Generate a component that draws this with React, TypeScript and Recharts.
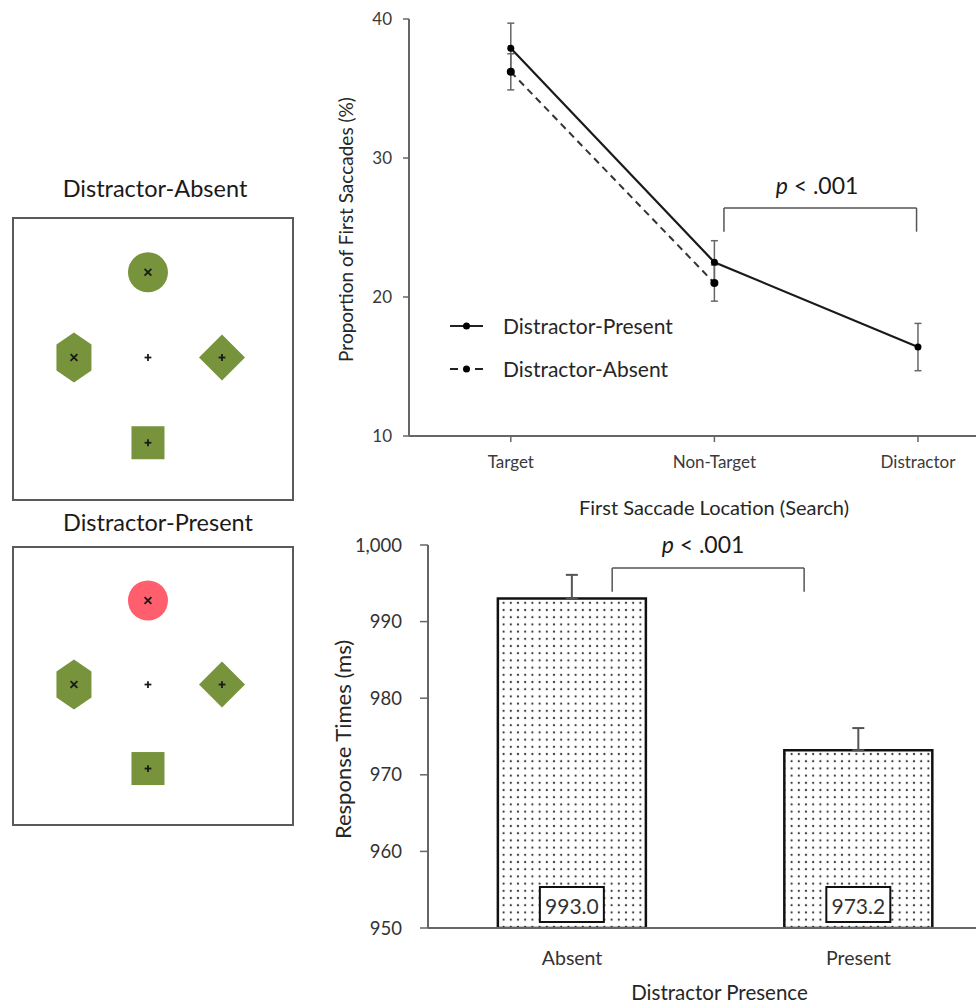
import React from 'react';
import {
  LineChart, Line, XAxis, YAxis, ErrorBar, ReferenceLine, ReferenceDot, Legend,
  BarChart, Bar, LabelList, ScatterChart, Scatter,
} from 'recharts';

const FONT = 'Lato, "Noto Sans", sans-serif';

// ---------- Line chart (first saccades) ----------
const saccadeLocations = ['Target', 'Non-Target', 'Distractor'];
const presentProportion = [37.9, 22.5, 16.4];
const presentError = [1.8, 1.55, 1.7];
const absentProportion: (number | null)[] = [36.2, 21.0, null];
const absentError: (number | null)[] = [1.3, 1.3, null];
const proportionTicks = [10, 20, 30, 40];
const legendItems = [
  { label: 'Distractor-Present', dash: undefined as string | undefined },
  { label: 'Distractor-Absent', dash: '8 17 8' },
];

const lineData = saccadeLocations.map((name, i) => ({
  idx: i,
  name,
  present: presentProportion[i],
  presentErr: presentError[i],
  absent: absentProportion[i],
  absentErr: absentError[i],
}));

// ---------- Bar chart (response times) ----------
const presenceConditions = ['Absent', 'Present'];
const responseTimes = [993.0, 973.2];
const responseTimeErrors = [3.1, 2.9];
const rtTicks = [950, 960, 970, 980, 990, 1000];

const barData = presenceConditions.map((name, i) => ({
  idx: i,
  name,
  rt: responseTimes[i],
  rtErr: [0, responseTimeErrors[i]],
}));

// ---------- Stimulus displays ----------
const stimulusKinds = ['circle', 'hexagon', 'diamond', 'square', 'fixation'];
const stimulusX = [0, -1, 1, 0, 0];
const stimulusY = [1, 0, 0, -1, 0];
const stimulusMarks = ['x', 'x', '+', '+', '+'];
const absentDisplayColors = ['#77933C', '#77933C', '#77933C', '#77933C', 'none'];
const presentDisplayColors = ['#FF5E6C', '#77933C', '#77933C', '#77933C', 'none'];
const panelTitles = ['Distractor-Absent', 'Distractor-Present'];

const makeDisplay = (colors: string[]) =>
  stimulusKinds.map((kind, i) => ({
    x: stimulusX[i],
    y: stimulusY[i],
    kind,
    mark: stimulusMarks[i],
    color: colors[i],
  }));

const AXIS = '#666';

const Mark = ({ cx, cy, mark }: { cx: number; cy: number; mark: string }) => {
  const s = 3.4;
  if (mark === 'x') {
    return (
      <g stroke="#1a1a1a" strokeWidth={1.8}>
        <line x1={cx - s} y1={cy - s} x2={cx + s} y2={cy + s} />
        <line x1={cx - s} y1={cy + s} x2={cx + s} y2={cy - s} />
      </g>
    );
  }
  return (
    <g stroke="#1a1a1a" strokeWidth={1.8}>
      <line x1={cx - s} y1={cy} x2={cx + s} y2={cy} />
      <line x1={cx} y1={cy - s} x2={cx} y2={cy + s} />
    </g>
  );
};

const StimulusShape = (props: any) => {
  const { cx, cy } = props;
  const p = props.payload || props;
  const kind = p.kind;
  const color = p.color;
  let body: React.ReactNode = null;
  if (kind === 'circle') {
    body = <circle cx={cx} cy={cy} r={20} fill={color} />;
  } else if (kind === 'hexagon') {
    const w = 17.5, h = 25, e = 13;
    const pts = [
      [cx, cy - h], [cx + w, cy - e], [cx + w, cy + e],
      [cx, cy + h], [cx - w, cy + e], [cx - w, cy - e],
    ].map((q) => q.join(',')).join(' ');
    body = <polygon points={pts} fill={color} />;
  } else if (kind === 'diamond') {
    const d = 23;
    const pts = [[cx, cy - d], [cx + d, cy], [cx, cy + d], [cx - d, cy]]
      .map((q) => q.join(',')).join(' ');
    body = <polygon points={pts} fill={color} />;
  } else if (kind === 'square') {
    body = <rect x={cx - 16.5} y={cy - 16.5} width={33} height={33} fill={color} />;
  }
  return (
    <g>
      {body}
      <Mark cx={cx} cy={cy} mark={p.mark} />
    </g>
  );
};

const StimulusPanel = ({ colors, top, height }: { colors: string[]; top: number; height: number }) => (
  <div
    style={{
      position: 'absolute', left: 12, top, width: 282, height,
      border: '2px solid #5a5a5a', boxSizing: 'border-box', background: '#fff',
    }}
  >
    <ScatterChart width={278} height={height - 4} margin={{ top: 0, right: 0, bottom: 0, left: 0 }}>
      <XAxis type="number" dataKey="x" domain={[-1.81, 1.946]} hide />
      <YAxis type="number" dataKey="y" domain={[-1.66, 1.625]} hide />
      <Scatter data={makeDisplay(colors)} shape={StimulusShape} isAnimationActive={false} />
    </ScatterChart>
  </div>
);

const LegendContent = () => (
  <div style={{ fontFamily: FONT, fontSize: 21, color: '#262626' }}>
    {legendItems.map((s) => (
      <div key={s.label} style={{ display: 'flex', alignItems: 'center', height: 43 }}>
        <svg width={53} height={20} style={{ flex: 'none' }}>
          <line x1={0} x2={33} y1={10} y2={10} stroke="#222" strokeWidth={2} strokeDasharray={s.dash} />
          <circle cx={16.5} cy={10} r={3.5} fill="#000" />
        </svg>
        <span style={{ whiteSpace: 'nowrap' }}>{s.label}</span>
      </div>
    ))}
  </div>
);

const PLabel = (fontSize: number) => (props: any) => {
  const vb = props.viewBox || {};
  const x = vb.x + (vb.width || 0) / 2;
  const y = vb.y + (vb.height || 0) / 2;
  return (
    <text x={x} y={y} textAnchor="middle" dominantBaseline="central" fontSize={fontSize} fontFamily={FONT} fill="#1a1a1a">
      <tspan fontStyle="italic">p</tspan> &lt; .001
    </text>
  );
};

const ValueBox = (props: any) => {
  const { x, y, width, height, value } = props;
  const cx = x + width / 2;
  const bottom = y + height;
  return (
    <g>
      <rect x={cx - 32} y={bottom - 41} width={64} height={35} fill="#fff" stroke="#111" strokeWidth={2} />
      <text x={cx} y={bottom - 23} textAnchor="middle" dominantBaseline="central" fontSize={21} fontFamily={FONT} fill="#333">
        {Number(value).toFixed(1)}
      </text>
    </g>
  );
};

const titleStyle: React.CSSProperties = {
  position: 'absolute', width: 310, textAlign: 'center', fontSize: 23.5, lineHeight: '28px', color: '#1a1a1a',
};

export default function App() {
  return (
    <div
      style={{
        position: 'absolute', left: 0, top: 0, width: 976, height: 1004,
        background: '#fff', overflow: 'hidden', fontFamily: FONT,
      }}
    >
      {/* Stimulus displays */}
      <div style={{ ...titleStyle, left: 0, top: 174 }}>{panelTitles[0]}</div>
      <StimulusPanel colors={absentDisplayColors} top={217} height={284} />
      <div style={{ ...titleStyle, left: 3, top: 508 }}>{panelTitles[1]}</div>
      <StimulusPanel colors={presentDisplayColors} top={546} height={280} />

      {/* Line chart */}
      <div style={{ position: 'absolute', left: 320, top: 0 }}>
        <LineChart width={656} height={520} data={lineData} margin={{ top: 19, right: 0, bottom: 0, left: 0 }}>
          <XAxis
            type="number"
            dataKey="idx"
            domain={[-0.5, 2.285]}
            ticks={[0, 1, 2]}
            tickFormatter={(v: number) => saccadeLocations[v] ?? ''}
            height={84}
            tickSize={6}
            tickMargin={14}
            axisLine={{ stroke: AXIS, strokeWidth: 2 }}
            tickLine={{ stroke: AXIS, strokeWidth: 1.5 }}
            tick={{ fontSize: 17, fill: '#3a3a3a', fontFamily: FONT }}
            label={(p: any) => (
              <text x={p.viewBox.x + 305} y={p.viewBox.y + 71} textAnchor="middle" dominantBaseline="central" fontSize={20} fontFamily={FONT} fill="#262626">
                First Saccade Location (Search)
              </text>
            )}
          />
          <YAxis
            type="number"
            domain={[10, 40]}
            ticks={proportionTicks}
            width={89}
            tickSize={6}
            tickMargin={11}
            axisLine={{ stroke: AXIS, strokeWidth: 2 }}
            tickLine={{ stroke: AXIS, strokeWidth: 1.5 }}
            tick={{ fontSize: 17, fill: '#3a3a3a', fontFamily: FONT }}
            label={(p: any) => {
              const x = p.viewBox.x + 25;
              const y = p.viewBox.y + p.viewBox.height / 2 + 2;
              return (
                <text x={x} y={y} transform={`rotate(-90 ${x} ${y})`} textAnchor="middle" dominantBaseline="central" fontSize={19} fontFamily={FONT} fill="#262626">
                  Proportion of First Saccades (%)
                </text>
              );
            }}
          />
          <Legend
            layout="horizontal"
            verticalAlign="middle"
            align="center"
            content={<LegendContent />}
            wrapperStyle={{ position: 'absolute', left: 130, top: 304, width: 300, height: 86 }}
          />
          <Line
            dataKey="absent"
            stroke="#333"
            strokeWidth={2}
            strokeDasharray="7 5"
            dot={{ r: 4, fill: '#000', stroke: '#000', strokeWidth: 0 }}
            isAnimationActive={false}
            legendType="none"
          >
            <ErrorBar dataKey="absentErr" width={3.5} stroke="#666" strokeWidth={1.5} direction="y" />
          </Line>
          <Line
            dataKey="present"
            stroke="#1a1a1a"
            strokeWidth={2.2}
            dot={{ r: 3.5, fill: '#000', stroke: '#000', strokeWidth: 0 }}
            isAnimationActive={false}
            legendType="none"
          >
            <ErrorBar dataKey="presentErr" width={3.5} stroke="#666" strokeWidth={1.5} direction="y" />
          </Line>
          <ReferenceLine segment={[{ x: 1.047, y: 26.4 }, { x: 1.993, y: 26.4 }]} stroke="#555" strokeWidth={1.5} ifOverflow="visible" />
          <ReferenceLine segment={[{ x: 1.047, y: 26.4 }, { x: 1.047, y: 24.7 }]} stroke="#555" strokeWidth={1.5} ifOverflow="visible" />
          <ReferenceLine segment={[{ x: 1.993, y: 26.4 }, { x: 1.993, y: 24.7 }]} stroke="#555" strokeWidth={1.5} ifOverflow="visible" />
          <ReferenceDot x={1.504} y={28.05} r={0} fill="none" stroke="none" ifOverflow="visible" label={PLabel(23)} />
        </LineChart>
      </div>

      {/* Bar chart */}
      <div style={{ position: 'absolute', left: 320, top: 520 }}>
        <BarChart width={656} height={484} data={barData} margin={{ top: 25, right: 0, bottom: 0, left: 0 }}>
          <defs>
            <pattern id="dotFill" width="7.2" height="7.2" patternUnits="userSpaceOnUse">
              <rect width="7.2" height="7.2" fill="#fff" />
              <circle cx="3.6" cy="3.6" r="1.1" fill="#3a3a3a" />
            </pattern>
          </defs>
          <XAxis
            type="number"
            dataKey="idx"
            domain={[-0.503, 1.41]}
            ticks={[0, 1]}
            tickFormatter={(v: number) => presenceConditions[v] ?? ''}
            height={76}
            tickSize={0}
            tickLine={false}
            tickMargin={23}
            axisLine={{ stroke: AXIS, strokeWidth: 2 }}
            tick={{ fontSize: 19.5, fill: '#333', fontFamily: FONT }}
            label={(p: any) => (
              <text x={p.viewBox.x + 291.5} y={p.viewBox.y + 64} textAnchor="middle" dominantBaseline="central" fontSize={20.5} fontFamily={FONT} fill="#262626">
                Distractor Presence
              </text>
            )}
          />
          <YAxis
            type="number"
            domain={[950, 1000]}
            ticks={rtTicks}
            allowDataOverflow
            width={108}
            tickSize={8}
            tickMargin={18}
            tickFormatter={(v: number) => v.toLocaleString('en-US')}
            axisLine={{ stroke: AXIS, strokeWidth: 2 }}
            tickLine={{ stroke: AXIS, strokeWidth: 1.5 }}
            tick={{ fontSize: 18.5, fill: '#333', fontFamily: FONT }}
            label={(p: any) => {
              const x = p.viewBox.x + 22;
              const y = p.viewBox.y + p.viewBox.height / 2 + 3;
              return (
                <text x={x} y={y} transform={`rotate(-90 ${x} ${y})`} textAnchor="middle" dominantBaseline="central" fontSize={22} fontFamily={FONT} fill="#262626">
                  Response Times (ms)
                </text>
              );
            }}
          />
          <Bar dataKey="rt" barSize={148} fill="url(#dotFill)" stroke="#111" strokeWidth={2.5} isAnimationActive={false}>
            <ErrorBar dataKey="rtErr" width={6} stroke="#555" strokeWidth={2} direction="y" />
            <LabelList dataKey="rt" content={ValueBox} />
          </Bar>
          <ReferenceLine segment={[{ x: 0.14, y: 997.0 }, { x: 0.81, y: 997.0 }]} stroke="#555" strokeWidth={1.5} ifOverflow="visible" />
          <ReferenceLine segment={[{ x: 0.14, y: 997.0 }, { x: 0.14, y: 993.9 }]} stroke="#555" strokeWidth={1.5} ifOverflow="visible" />
          <ReferenceLine segment={[{ x: 0.81, y: 997.0 }, { x: 0.81, y: 993.9 }]} stroke="#555" strokeWidth={1.5} ifOverflow="visible" />
          <ReferenceDot x={0.457} y={1000.1} r={0} fill="none" stroke="none" ifOverflow="visible" label={PLabel(23)} />
        </BarChart>
      </div>
    </div>
  );
}
